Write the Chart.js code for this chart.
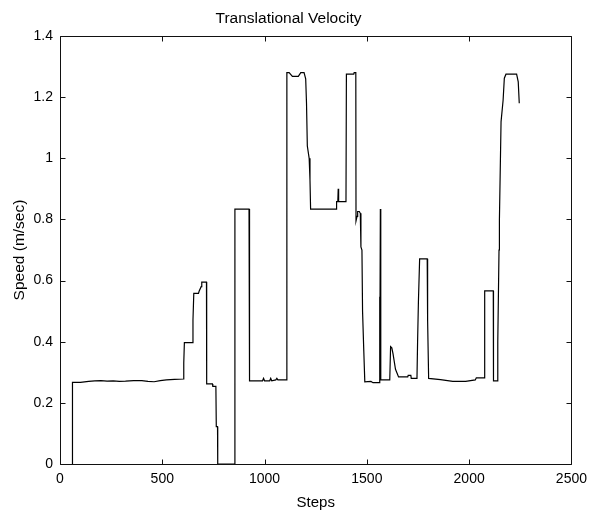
<!DOCTYPE html>
<html>
<head>
<meta charset="utf-8">
<script src="https://cdn.jsdelivr.net/npm/chart.js@4/dist/chart.umd.min.js"></script>
<style>
  html, body { margin: 0; padding: 0; background: #fff; }
  #wrap { width: 594px; height: 512px; }
</style>
</head>
<body>
<div id="wrap"><canvas id="c" width="594" height="512"></canvas></div>
<script>
const chartTitle = 'Translational Velocity';
const xAxisTitle = 'Steps';
const yAxisTitle = 'Speed (m/sec)';
const xTickValues = [0, 500, 1000, 1500, 2000, 2500];
const yTickLabels = ['0', '0.2', '0.4', '0.6', '0.8', '1', '1.2', '1.4'];

const steps = [
  60, 61, 100, 140, 170, 200, 230, 260, 290, 320, 360, 400, 430, 460, 490, 520, 560, 604, 605, 608,
  648, 650, 654, 677, 680, 690, 693, 716, 717, 745, 747, 762, 764, 770, 771,
  854, 855, 924, 925, 928, 990, 995, 1000, 1025, 1030, 1035, 1055, 1060, 1065, 1108,
  1109, 1120, 1136, 1165, 1177, 1193, 1201, 1205, 1209, 1218, 1222, 1225,
  1350, 1352, 1358, 1360, 1362, 1398, 1400, 1436, 1438, 1446, 1447, 1452, 1455, 1463,
  1468, 1471, 1476, 1479, 1485, 1490, 1520, 1530, 1560, 1562, 1564, 1566, 1568,
  1612, 1616, 1622, 1628, 1640, 1655, 1700, 1702, 1715, 1717, 1745, 1748, 1752, 1758,
  1795, 1797, 1802, 1860, 1920, 1983, 2030, 2035, 2075, 2076, 2118, 2119, 2138,
  2140, 2146, 2148, 2156, 2166, 2172, 2180, 2192, 2232, 2240, 2245
];
const speed = [
  0, 0.267, 0.267, 0.27, 0.272, 0.273, 0.271, 0.272, 0.27, 0.271, 0.273, 0.273, 0.27, 0.269, 0.273, 0.275, 0.277, 0.278, 0.33, 0.397,
  0.397, 0.47, 0.558, 0.558, 0.565, 0.58, 0.595, 0.595, 0.262, 0.262, 0.254, 0.254, 0.122, 0.122, 0,
  0, 0.834, 0.834, 0.547, 0.272, 0.272, 0.28, 0.272, 0.272, 0.28, 0.272, 0.275, 0.28, 0.275, 0.275,
  1.28, 1.28, 1.268, 1.268, 1.28, 1.28, 1.26, 1.18, 1.04, 1.0, 0.93, 0.834,
  0.834, 0.858, 0.858, 0.9, 0.858, 0.858, 1.275, 1.275, 1.28, 1.28, 0.795, 0.81, 0.826, 0.826,
  0.82, 0.71, 0.7, 0.5, 0.37, 0.269, 0.27, 0.266, 0.266, 0.547, 0.27, 0.834, 0.275,
  0.275, 0.384, 0.38, 0.36, 0.31, 0.285, 0.285, 0.29, 0.29, 0.28, 0.28, 0.4, 0.53, 0.671,
  0.671, 0.47, 0.28, 0.276, 0.27, 0.27, 0.275, 0.282, 0.282, 0.566, 0.566, 0.272, 0.272,
  0.4, 0.7, 0.8, 1.12, 1.19, 1.262, 1.275, 1.275, 1.275, 1.25, 1.18
];

const FONT = "'Liberation Sans', Arial, Helvetica, sans-serif";

const boxPlugin = {
  id: 'matlabBox',
  afterDatasetsDraw(chart) {
    const {ctx, chartArea: a, scales: {x, y}} = chart;
    ctx.save();
    ctx.strokeStyle = '#111';
    ctx.lineWidth = 1;
    const L = Math.round(a.left) + 0.5, R = Math.round(a.right) + 0.5;
    const T = Math.round(a.top) + 0.5, B = Math.round(a.bottom) + 0.5;
    ctx.beginPath();
    ctx.rect(L, T, R - L, B - T);
    const tl = 5;
    x.ticks.forEach(t => {
      const px = Math.round(x.getPixelForValue(t.value)) + 0.5;
      ctx.moveTo(px, B); ctx.lineTo(px, B - tl);
      ctx.moveTo(px, T); ctx.lineTo(px, T + tl);
    });
    y.ticks.forEach(t => {
      const py = Math.round(y.getPixelForValue(t.value)) + 0.5;
      ctx.moveTo(L, py); ctx.lineTo(L + tl, py);
      ctx.moveTo(R, py); ctx.lineTo(R - tl, py);
    });
    ctx.stroke();
    ctx.restore();
  }
};

new Chart(document.getElementById('c'), {
  type: 'scatter',
  data: {
    datasets: [{
      data: steps.map((s, i) => ({x: s, y: speed[i]})),
      showLine: true,
      borderColor: '#000',
      borderWidth: 1.2,
      pointRadius: 0,
      tension: 0,
      fill: false
    }]
  },
  options: {
    responsive: false,
    animation: false,
    devicePixelRatio: 1,
    layout: { padding: { left: 0, right: 17, top: 0, bottom: 0 } },
    plugins: {
      legend: { display: false },
      tooltip: { enabled: false },
      title: {
        display: true,
        text: chartTitle,
        color: '#000',
        font: { family: FONT, size: 15.5, weight: 'normal', lineHeight: 1.2 },
        padding: { top: 9.5, bottom: 7.9 }
      }
    },
    scales: {
      x: {
        type: 'linear',
        min: 0, max: 2500,
        afterBuildTicks(scale) { scale.ticks = xTickValues.map(v => ({value: v})); },
        afterFit(scale) { scale.height = 48; },
        grid: { display: false, drawTicks: false },
        border: { display: false },
        ticks: {
          color: '#000',
          font: { family: FONT, size: 14 },
          padding: 7,
          maxRotation: 0,
          callback: v => String(v)
        },
        title: {
          display: true, text: xAxisTitle, color: '#000',
          font: { family: FONT, size: 15 },
          padding: { top: 3, bottom: 0 }
        }
      },
      y: {
        type: 'linear',
        min: 0, max: 1.4,
        afterBuildTicks(scale) { scale.ticks = yTickLabels.map(l => ({value: parseFloat(l)})); },
        afterFit(scale) { scale.width = 60; },
        grid: { display: false, drawTicks: false },
        border: { display: false },
        ticks: {
          color: '#000',
          font: { family: FONT, size: 14 },
          padding: 7,
          callback: (v, i) => yTickLabels[i]
        },
        title: {
          display: true, text: yAxisTitle, color: '#000',
          font: { family: FONT, size: 15.5 },
          padding: { top: 10, bottom: 0 }
        }
      }
    }
  },
  plugins: [boxPlugin]
});
</script>
</body>
</html>
